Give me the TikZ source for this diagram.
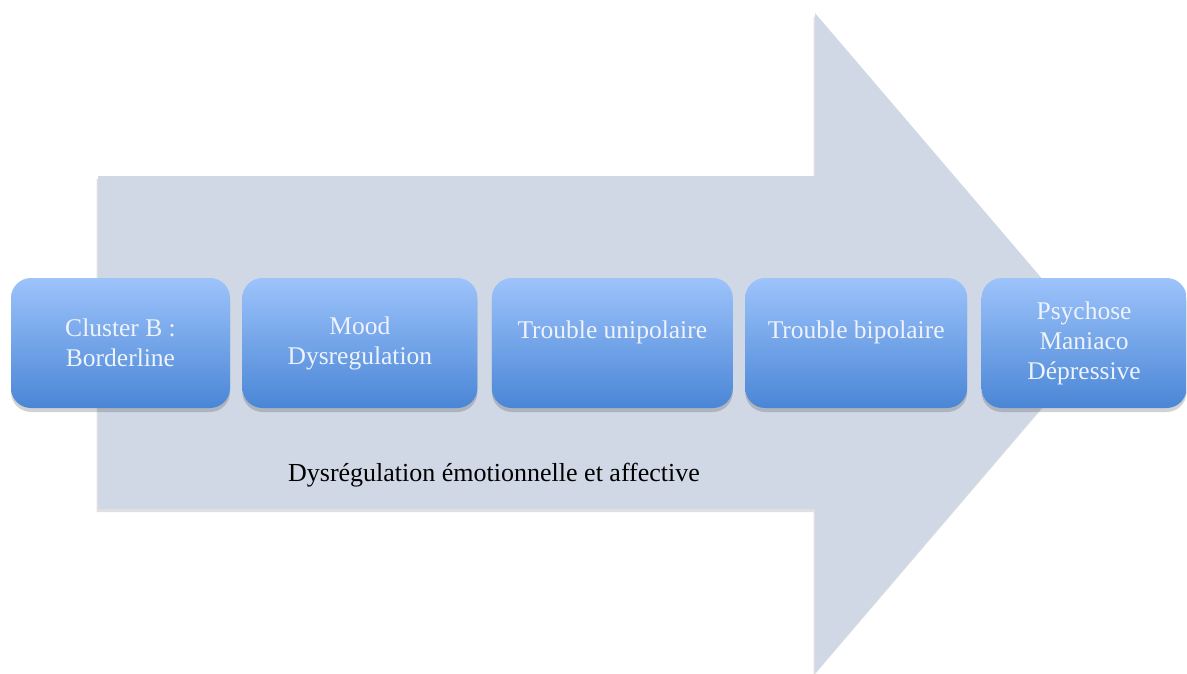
\documentclass[tikz,border=0pt]{standalone}
\usepackage{fontspec}
\setmainfont{Liberation Serif}
\usepackage{tikz}
\usetikzlibrary{positioning, shadows}
\definecolor{arrowfill}{HTML}{D0D8E6}
\definecolor{boxtop}{HTML}{9DC3FB}
\definecolor{boxbottom}{HTML}{4A86D6}
\definecolor{boxtext}{HTML}{EEF3FB}

\begin{document}
\begin{tikzpicture}
		[x=1pt, y=-1pt, node distance=12pt,
		 phase/.style={rounded corners=20pt, top color=boxtop, bottom color=boxbottom,
		   text=boxtext, minimum height=130pt, align=center, inner sep=0pt,
		   font=\fontsize{25.5}{30}\selectfont,
		   drop shadow={shadow xshift=0pt, shadow yshift=-4pt, opacity=0.25, fill=black!70}}]
	
		\useasboundingbox (0,0) rectangle (1187,673);
	
		% arrow %
		\fill[arrowfill, drop shadow={shadow xshift=-1.5pt, shadow yshift=-3pt, opacity=0.2, fill=black!60}]
		  (98,176) -- (815,176) -- (815,13) -- (1097,343) -- (815,673) -- (815,509) -- (98,509) -- cycle;
	
		% nodes %
		\node[phase, minimum width=219pt] (cluster) at (120.5,343) {Cluster B :\\Borderline};
		\node[phase, minimum width=235pt, right=12pt of cluster] (mood) {Mood\\Dysregulation};
		\node[phase, minimum width=241pt, right=14pt of mood] (unipol) {Trouble unipolaire\\[-12pt]\strut};
		\node[phase, minimum width=222pt, right=12pt of unipol] (bipol) {Trouble bipolaire\\[-12pt]\strut};
		\node[phase, minimum width=205pt, right=14pt of bipol] (psych) {Psychose\\Maniaco\\Dépressive};
	
		% label %
		\node[font=\fontsize{26}{30}\selectfont] (dysreg) at (494,475) {Dysrégulation émotionnelle et affective};
	
		\end{tikzpicture}
\end{document}
